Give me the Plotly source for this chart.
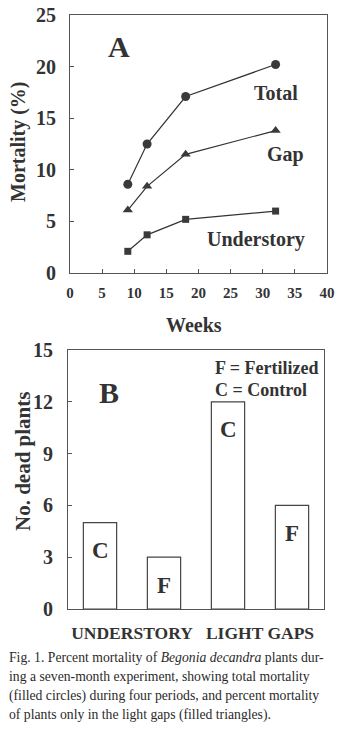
import plotly.graph_objects as go

# ---- Data ----
weeks = [9, 12, 18, 32]
total = [8.6, 12.5, 17.1, 20.2]
gap = [6.1, 8.4, 11.5, 13.8]
understory = [2.1, 3.7, 5.2, 6.0]

bar_pos = [0, 1, 2, 3]
dead_plants = [5, 3, 12, 6]
bar_letters = ["C", "F", "C", "F"]
group_pos = [0.5, 2.5]
group_labels = ["UNDERSTORY", "LIGHT GAPS"]

W, H = 354, 738
FONT = "Liberation Serif"
TXT = "#333333"
LINE = "#555555"

def px(x):
    return x / W

def py(y):
    return 1 - y / H

fig = go.Figure()

mk = dict(color="#3a3a3a")
ln = dict(color="#333333", width=1.2)
fig.add_trace(go.Scatter(x=weeks, y=total, mode="lines+markers", line=ln,
                         marker=dict(symbol="circle", size=9, **mk), xaxis="x", yaxis="y", showlegend=False))
fig.add_trace(go.Scatter(x=weeks, y=gap, mode="lines+markers", line=ln,
                         marker=dict(symbol="triangle-up", size=9, **mk), xaxis="x", yaxis="y", showlegend=False))
fig.add_trace(go.Scatter(x=weeks, y=understory, mode="lines+markers", line=ln,
                         marker=dict(symbol="square", size=7, **mk), xaxis="x", yaxis="y", showlegend=False))

fig.add_trace(go.Bar(x=bar_pos, y=dead_plants, width=0.52,
                     marker=dict(color="white", line=dict(color="#444444", width=1.2)),
                     xaxis="x2", yaxis="y2", showlegend=False))

axis_common = dict(showline=True, linecolor=LINE, linewidth=1.2, mirror=True,
                   showgrid=False, zeroline=False, ticks="inside", ticklen=4,
                   tickcolor=LINE, automargin=False)

fig.update_layout(
    template="none",
    width=W, height=H, margin=dict(l=0, r=0, t=0, b=0, autoexpand=False),
    paper_bgcolor="white", plot_bgcolor="white",
    font=dict(family=FONT, color=TXT),
    xaxis=dict(domain=[px(70), px(327)], range=[0, 40], tickvals=list(range(0, 41, 5)),
               tickfont=dict(family=FONT, size=15, color=TXT, weight="bold"),
               anchor="y", ticklabelstandoff=6, **axis_common),
    yaxis=dict(domain=[py(273), py(15)], range=[0, 25], tickvals=list(range(0, 26, 5)),
               tickfont=dict(family=FONT, size=20, color=TXT, weight="bold"),
               anchor="x", ticklabelstandoff=9, **axis_common),
    xaxis2=dict(domain=[px(68), px(324)], range=[-0.5, 3.5], tickvals=group_pos,
                ticktext=group_labels,
                tickfont=dict(family=FONT, size=17.5, color=TXT, weight="bold"),
                anchor="y2", ticklabelstandoff=8,
                **{**axis_common, "ticks": ""}),
    yaxis2=dict(domain=[py(609), py(350)], range=[0, 15], tickvals=list(range(0, 16, 3)),
                tickfont=dict(family=FONT, size=20, color=TXT, weight="bold"),
                anchor="x2", ticklabelstandoff=10, **axis_common),
)

ann = []
def A(**kw):
    kw.setdefault("xanchor", "center")
    kw.setdefault("yanchor", "middle")
    kw.setdefault("showarrow", False)
    ann.append(kw)

# Top chart texts
A(text="<b>Mortality (%)</b>", x=px(18), y=py(142), xref="paper", yref="paper",
  textangle=-90, font=dict(size=20, family=FONT, color=TXT))
A(text="<b>Weeks</b>", x=px(194), y=py(325), xref="paper", yref="paper",
  font=dict(size=20, family=FONT, color=TXT))
A(text="<b>A</b>", x=px(119), y=py(46), xref="paper", yref="paper",
  font=dict(size=30, family=FONT, color=TXT))
A(text="<b>Total</b>", x=px(276), y=py(93), xref="paper", yref="paper",
  font=dict(size=20, family=FONT, color=TXT))
A(text="<b>Gap</b>", x=px(285), y=py(155), xref="paper", yref="paper",
  font=dict(size=20, family=FONT, color=TXT))
A(text="<b>Understory</b>", x=px(256), y=py(239), xref="paper", yref="paper",
  font=dict(size=20, family=FONT, color=TXT))

# Bottom chart texts
A(text="<b>No. dead plants</b>", x=px(23), y=py(462), xref="paper", yref="paper",
  textangle=-90, font=dict(size=21, family=FONT, color=TXT))
A(text="<b>B</b>", x=px(109), y=py(392), xref="paper", yref="paper",
  font=dict(size=30, family=FONT, color=TXT))
A(text="<b>F = Fertilized</b>", x=px(213), y=py(368), xref="paper", yref="paper",
  xanchor="left", font=dict(size=18, family=FONT, color=TXT))
A(text="<b>C = Control</b>", x=px(213), y=py(390), xref="paper", yref="paper",
  xanchor="left", font=dict(size=18, family=FONT, color=TXT))
for xp, v, t in zip(bar_pos, dead_plants, bar_letters):
    A(text="<b>" + t + "</b>", x=xp, y=v, xref="x2", yref="y2",
      yshift=-28, font=dict(size=23, family=FONT, color=TXT))

# Caption
caption = [
    "Fig. 1. Percent mortality of <i>Begonia decandra</i> plants dur-",
    "ing a seven-month experiment, showing total mortality",
    "(filled circles) during four periods, and percent mortality",
    "of plants only in the light gaps (filled triangles).",
]
cap_y = [657, 676, 695.5, 715]
for line, yy in zip(caption, cap_y):
    A(text=line, x=px(7), y=py(yy), xref="paper", yref="paper", xanchor="left",
      font=dict(size=13.7, family=FONT, color="#2a2a2a"))

fig.update_layout(annotations=ann)
fig.write_html("out.html", config={"displayModeBar": False},
               post_script="document.body.style.margin='0';document.body.style.padding='0';")
